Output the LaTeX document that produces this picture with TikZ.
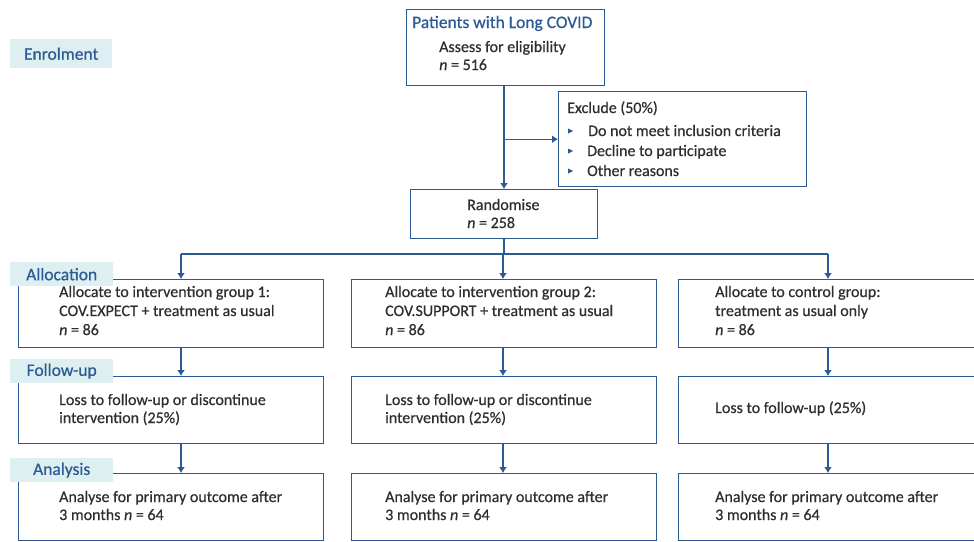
\documentclass[tikz,border=0pt]{standalone}
\usepackage{fontspec}
\setmainfont{Carlito}[FakeBold=0.6]
\usetikzlibrary{arrows.meta}
\definecolor{lineblue}{HTML}{2C5A94}
\definecolor{labbg}{HTML}{DDEFF0}
\definecolor{txtc}{HTML}{2E2E2E}
\begin{document}
\begin{tikzpicture}[x=1pt,y=-1pt,
  box/.style={draw=lineblue, line width=1.4pt, rectangle, inner sep=0pt, anchor=north west},
  lab/.style={fill=labbg, rectangle, inner sep=0pt, anchor=north west, text=lineblue, font=\fontsize{17.5}{19}\selectfont},
  tx/.style={anchor=base west, inner sep=0pt, text=txtc, font=\fontsize{16}{18}\selectfont},
  conn/.style={draw=lineblue, line width=1.4pt},
  arr/.style={conn, -{Latex[length=6pt,width=8pt]}},
  bul/.style={fill=lineblue}]
\useasboundingbox (0,0) rectangle (974,541);

% boxes
\node[box, minimum width=198pt, minimum height=76pt] (top) at (406,9) {};
\node[box, minimum width=248pt, minimum height=95pt] (excl) at (558,91) {};
\node[box, minimum width=187pt, minimum height=49pt] (rand) at (410,189) {};
\node[box, minimum width=305pt, minimum height=68pt] (a1) at (18,279) {};
\node[box, minimum width=305pt, minimum height=68pt] (a2) at (351,279) {};
\node[box, minimum width=300pt, minimum height=68pt] (a3) at (678,279) {};
\node[box, minimum width=305pt, minimum height=67pt] (f1) at (18,376) {};
\node[box, minimum width=305pt, minimum height=67pt] (f2) at (351,376) {};
\node[box, minimum width=300pt, minimum height=67pt] (f3) at (678,376) {};
\node[box, minimum width=305pt, minimum height=67pt] (n1) at (18,473) {};
\node[box, minimum width=305pt, minimum height=67pt] (n2) at (351,473) {};
\node[box, minimum width=300pt, minimum height=67pt] (n3) at (678,473) {};

% stage labels
\node[lab, minimum width=102pt, minimum height=29pt] (lenr) at (10,39) {Enrolment};
\node[lab, minimum width=103pt, minimum height=24pt] (lall) at (10,262) {Allocation};
\node[lab, minimum width=103pt, minimum height=24pt] (lfol) at (10,359) {Follow-up};
\node[lab, minimum width=103pt, minimum height=24pt] (lana) at (10,458) {Analysis};

% texts
\node[tx, text=lineblue, font=\fontsize{17.5}{19}\selectfont] (t1) at (412,28) {Patients with Long COVID};
\node[tx] (t2) at (439,52) {Assess for eligibility};
\node[tx] (t3) at (439,70) {\textit{n} = 516};

\node[tx] (e0) at (567,113) {Exclude (50\%)};
\node[tx] (e1) at (588,136) {Do not meet inclusion criteria};
\node[tx] (e2) at (587,156) {Decline to participate};
\node[tx] (e3) at (587,176) {Other reasons};
\fill[bul] (568,128.5) -- (573,131) -- (568,133.5) -- cycle;
\fill[bul] (568,148.5) -- (573,151) -- (568,153.5) -- cycle;
\fill[bul] (568,168.5) -- (573,171) -- (568,173.5) -- cycle;

\node[tx] (r1) at (467,210) {Randomise};
\node[tx] (r2) at (467,228) {\textit{n} = 258};

\node[tx] (a1a) at (59,297) {Allocate to intervention group 1:};
\node[tx] (a1b) at (59,316) {COV.EXPECT + treatment as usual};
\node[tx] (a1c) at (59,335) {\textit{n} = 86};
\node[tx] (a2a) at (385,297) {Allocate to intervention group 2:};
\node[tx] (a2b) at (385,316) {COV.SUPPORT + treatment as usual};
\node[tx] (a2c) at (385,335) {\textit{n} = 86};
\node[tx] (a3a) at (715,297) {Allocate to control group:};
\node[tx] (a3b) at (715,316) {treatment as usual only};
\node[tx] (a3c) at (715,335) {\textit{n} = 86};

\node[tx] (f1a) at (59,405) {Loss to follow-up or discontinue};
\node[tx] (f1b) at (59,423) {intervention (25\%)};
\node[tx] (f2a) at (385,405) {Loss to follow-up or discontinue};
\node[tx] (f2b) at (385,423) {intervention (25\%)};
\node[tx] (f3a) at (715,413) {Loss to follow-up (25\%)};

\node[tx] (n1a) at (59,502) {Analyse for primary outcome after};
\node[tx] (n1b) at (59,520) {3 months \textit{n} = 64};
\node[tx] (n2a) at (385,502) {Analyse for primary outcome after};
\node[tx] (n2b) at (385,520) {3 months \textit{n} = 64};
\node[tx] (n3a) at (715,502) {Analyse for primary outcome after};
\node[tx] (n3b) at (715,520) {3 months \textit{n} = 64};

% connectors
\coordinate (v0) at (504,85);
\coordinate (j1) at (181,254);
\coordinate (j2) at (503,254);
\coordinate (j3) at (828,254);
\draw[arr] (v0) -- (v0 |- rand.north);
\draw[arr] (v0 |- excl.west) -- (excl.west);
\draw[conn] (rand.south -| v0) -- (v0 |- j1);
\draw[conn] (j1) -- (j3);
\draw[arr] (j1) -- (j1 |- a1.north);
\draw[arr] (j2) -- (j2 |- a2.north);
\draw[arr] (j3) -- (j3 |- a3.north);
\draw[arr] (a1.south -| j1) -- (f1.north -| j1);
\draw[arr] (a2.south -| j2) -- (f2.north -| j2);
\draw[arr] (a3.south -| j3) -- (f3.north -| j3);
\draw[arr] (f1.south -| j1) -- (n1.north -| j1);
\draw[arr] (f2.south -| j2) -- (n2.north -| j2);
\draw[arr] (f3.south -| j3) -- (n3.north -| j3);
\end{tikzpicture}
\end{document}
